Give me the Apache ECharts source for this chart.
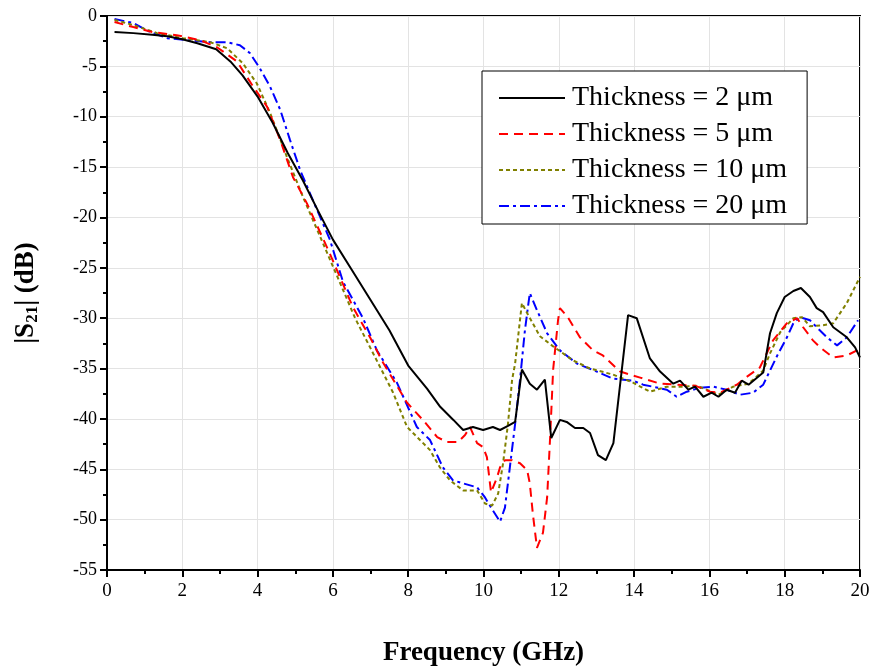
<!DOCTYPE html>
<html><head><meta charset="utf-8">
<script src="https://cdn.jsdelivr.net/npm/echarts@6/dist/echarts.min.js"></script>
<style>html,body{margin:0;padding:0;background:#fff}#c{width:877px;height:672px}</style>
</head><body><div id="c"></div>
<script>
const seriesNames = ['Thickness = 2 μm','Thickness = 5 μm','Thickness = 10 μm','Thickness = 20 μm'];
const xTicks = [0,2,4,6,8,10,12,14,16,18,20];

const freq2 = [0.2,0.7,1.2,1.6,2.0,2.4,2.9,3.3,3.6,4.0,4.4,4.8,5.2,5.6,6.0,6.5,7.0,7.5,8.0,8.5,8.85,9.2,9.46,9.72,9.99,10.25,10.44,10.65,10.84,11.02,11.23,11.42,11.63,11.8,12.03,12.21,12.43,12.65,12.83,13.04,13.25,13.45,13.84,14.07,14.42,14.69,15.04,15.22,15.44,15.62,15.84,16.06,16.24,16.46,16.68,16.86,17.04,17.43,17.61,17.79,18.0,18.23,18.43,18.67,18.85,19.02,19.29,19.65,19.87,20.0];
const s21_2 = [-1.6,-1.7,-1.85,-2.0,-2.3,-2.7,-3.3,-4.6,-5.9,-8.0,-10.6,-13.6,-16.3,-19.3,-22.2,-25.2,-28.2,-31.2,-34.7,-37.0,-38.8,-40.1,-41.1,-40.8,-41.1,-40.8,-41.1,-40.7,-40.3,-35.1,-36.5,-37.1,-36.1,-41.9,-40.1,-40.3,-40.9,-40.9,-41.4,-43.6,-44.1,-42.4,-29.7,-30.0,-34.0,-35.3,-36.5,-36.2,-37.1,-36.8,-37.8,-37.4,-37.8,-37.1,-37.4,-36.2,-36.6,-35.4,-31.5,-29.5,-27.9,-27.3,-27.0,-27.9,-29.0,-29.4,-30.9,-31.9,-32.9,-33.9];

const freq5 = [0.2,0.7,1.22,1.85,2.47,2.92,3.45,3.88,4.25,4.6,4.94,5.31,5.92,6.53,7.0,7.33,7.97,8.39,8.77,9.03,9.32,9.51,9.64,9.83,9.99,10.09,10.2,10.36,10.44,10.57,10.76,10.97,11.16,11.23,11.31,11.42,11.58,11.69,11.77,11.85,11.98,12.03,12.24,12.56,12.91,13.17,13.63,14.16,14.69,15.13,15.62,16.02,16.28,16.73,17.0,17.34,17.69,18.06,18.33,18.49,18.75,18.94,19.29,19.65,19.92,20.0];
const s21_5 = [-0.6,-1.1,-1.6,-1.9,-2.4,-3.1,-4.5,-7.0,-9.0,-12.3,-16.0,-18.6,-23.6,-28.9,-32.0,-34.4,-38.4,-40.1,-41.8,-42.3,-42.3,-41.6,-40.8,-42.4,-42.8,-43.8,-47.3,-45.8,-44.8,-44.1,-44.1,-44.4,-45.1,-46.4,-49.4,-52.8,-51.3,-47.8,-41.8,-35.1,-30.2,-29.0,-29.9,-31.9,-33.2,-33.7,-35.3,-35.9,-36.5,-36.6,-36.7,-37.3,-37.4,-36.6,-35.8,-34.9,-32.2,-30.5,-30.0,-30.9,-32.2,-32.9,-33.9,-33.7,-33.2,-32.9];

const freq10 = [0.2,0.7,1.33,2.02,2.74,3.19,3.61,3.98,4.33,4.78,5.21,5.66,6.19,6.59,7.07,7.6,7.97,8.58,8.84,9.11,9.46,9.83,10.04,10.23,10.39,10.52,10.65,10.76,10.84,11.02,11.16,11.5,11.85,12.38,12.83,13.44,13.97,14.42,14.87,15.3,15.67,16.24,16.63,17.04,17.43,17.61,17.88,18.23,18.46,18.67,19.02,19.29,19.65,20.0];
const s21_10 = [-0.4,-0.9,-1.7,-2.2,-2.6,-3.2,-4.7,-6.7,-9.6,-14.0,-18.0,-21.9,-26.5,-30.0,-33.5,-37.4,-40.8,-43.1,-44.8,-46.1,-47.1,-47.1,-48.4,-48.6,-47.4,-44.4,-40.5,-36.1,-34.5,-28.5,-29.5,-31.8,-32.8,-34.2,-35.0,-35.6,-36.4,-37.3,-36.8,-36.8,-36.7,-37.6,-36.8,-36.5,-35.2,-33.5,-31.4,-30.0,-29.9,-30.8,-30.7,-30.5,-28.5,-25.9];

const freq20 = [0.2,0.7,1.15,1.6,2.12,2.74,3.19,3.53,3.8,4.06,4.33,4.6,4.86,5.13,5.47,5.92,6.27,6.8,7.17,7.7,8.23,8.58,8.92,9.19,9.46,9.83,10.04,10.25,10.44,10.57,10.7,10.84,10.97,11.1,11.23,11.42,11.69,12.03,12.48,13.01,13.44,13.97,14.24,14.87,15.13,15.4,15.75,16.1,16.46,16.81,17.16,17.43,17.61,17.79,18.06,18.23,18.41,18.67,18.85,19.12,19.39,19.65,19.95];
const s21_20 = [-0.3,-0.7,-1.6,-2.2,-2.4,-2.6,-2.6,-2.9,-3.7,-5.2,-7.0,-9.3,-12.3,-15.3,-18.3,-22.2,-26.4,-30.0,-33.2,-36.4,-40.8,-42.1,-44.8,-46.1,-46.4,-46.8,-47.8,-49.1,-50.2,-48.8,-44.8,-40.5,-36.1,-31.2,-27.5,-29.2,-31.5,-33.2,-34.5,-35.3,-36.0,-36.2,-36.6,-37.1,-37.8,-37.3,-36.9,-36.8,-37.1,-37.6,-37.4,-36.6,-35.2,-33.8,-31.9,-30.5,-29.9,-30.2,-30.9,-31.9,-32.7,-31.9,-30.2];

const zip = (xs, ys) => xs.map((x, i) => [x, ys[i]]);
const styles = [
  {color:'#000000', type:'solid'},
  {color:'#ff0000', type:[9,6]},
  {color:'#808000', type:[4,3]},
  {color:'#0000ff', type:[10,4,3,4]}
];
const datasets = [zip(freq2,s21_2), zip(freq5,s21_5), zip(freq10,s21_10), zip(freq20,s21_20)];
const serif = '"Liberation Serif","Times New Roman",serif';

const chart = echarts.init(document.getElementById('c'));
chart.setOption({
  animation:false,
  backgroundColor:'#fff',
  grid:{left:107,right:17,top:16,bottom:102,show:true,borderColor:'#000',borderWidth:2,backgroundColor:'transparent'},
  legend:{
    orient:'vertical', left:482, top:71,
    padding:[13,20,4,16], itemGap:8, itemWidth:66, itemHeight:14,
    borderColor:'#000', borderWidth:1, backgroundColor:'#fff',
    itemStyle:{opacity:0},
    textStyle:{fontFamily:serif,fontSize:28,color:'#000',padding:[0,0,0,2]},
    data:seriesNames
  },
  xAxis:{
    type:'value', min:0, max:20, interval:2,
    axisLine:{onZero:false,lineStyle:{color:'#000',width:2}},
    axisTick:{inside:false,length:7,lineStyle:{color:'#000',width:2}},
    minorTick:{show:true,splitNumber:2,length:4,lineStyle:{color:'#000',width:2}},
    axisLabel:{fontFamily:serif,fontSize:19,color:'#000',margin:12,formatter:v=>xTicks.includes(v)?String(v):''},
    splitLine:{show:true,lineStyle:{color:'#e3e3e3',width:1}},
    name:'Frequency (GHz)', nameLocation:'middle', nameGap:70,
    nameTextStyle:{fontFamily:serif,fontSize:27,fontWeight:'bold',color:'#000'}
  },
  yAxis:{
    type:'value', min:-55, max:0, interval:5,
    axisLine:{onZero:false,lineStyle:{color:'#000',width:2}},
    axisTick:{inside:false,length:7,lineStyle:{color:'#000',width:2}},
    minorTick:{show:true,splitNumber:2,length:4,lineStyle:{color:'#000',width:2}},
    axisLabel:{fontFamily:serif,fontSize:18,color:'#000',margin:10},
    splitLine:{show:true,lineStyle:{color:'#e3e3e3',width:1}},
    name:'{a||S}{sub|21}{a|| (dB)}', nameLocation:'middle', nameGap:66, nameRotate:90,
    nameTextStyle:{fontFamily:serif,fontSize:27,fontWeight:'bold',color:'#000',
      rich:{a:{fontFamily:serif,fontSize:27,fontWeight:'bold',color:'#000'},
            sub:{fontFamily:serif,fontSize:17,fontWeight:'bold',color:'#000',padding:[12,0,0,0]}}}
  },
  series: seriesNames.map((n,i)=>({
    name:n, type:'line', data:datasets[i], symbol:'none', smooth:false,
    lineStyle:{color:styles[i].color,type:styles[i].type,width:2},
    itemStyle:{color:styles[i].color}, z:10-i
  }))
});
</script></body></html>
